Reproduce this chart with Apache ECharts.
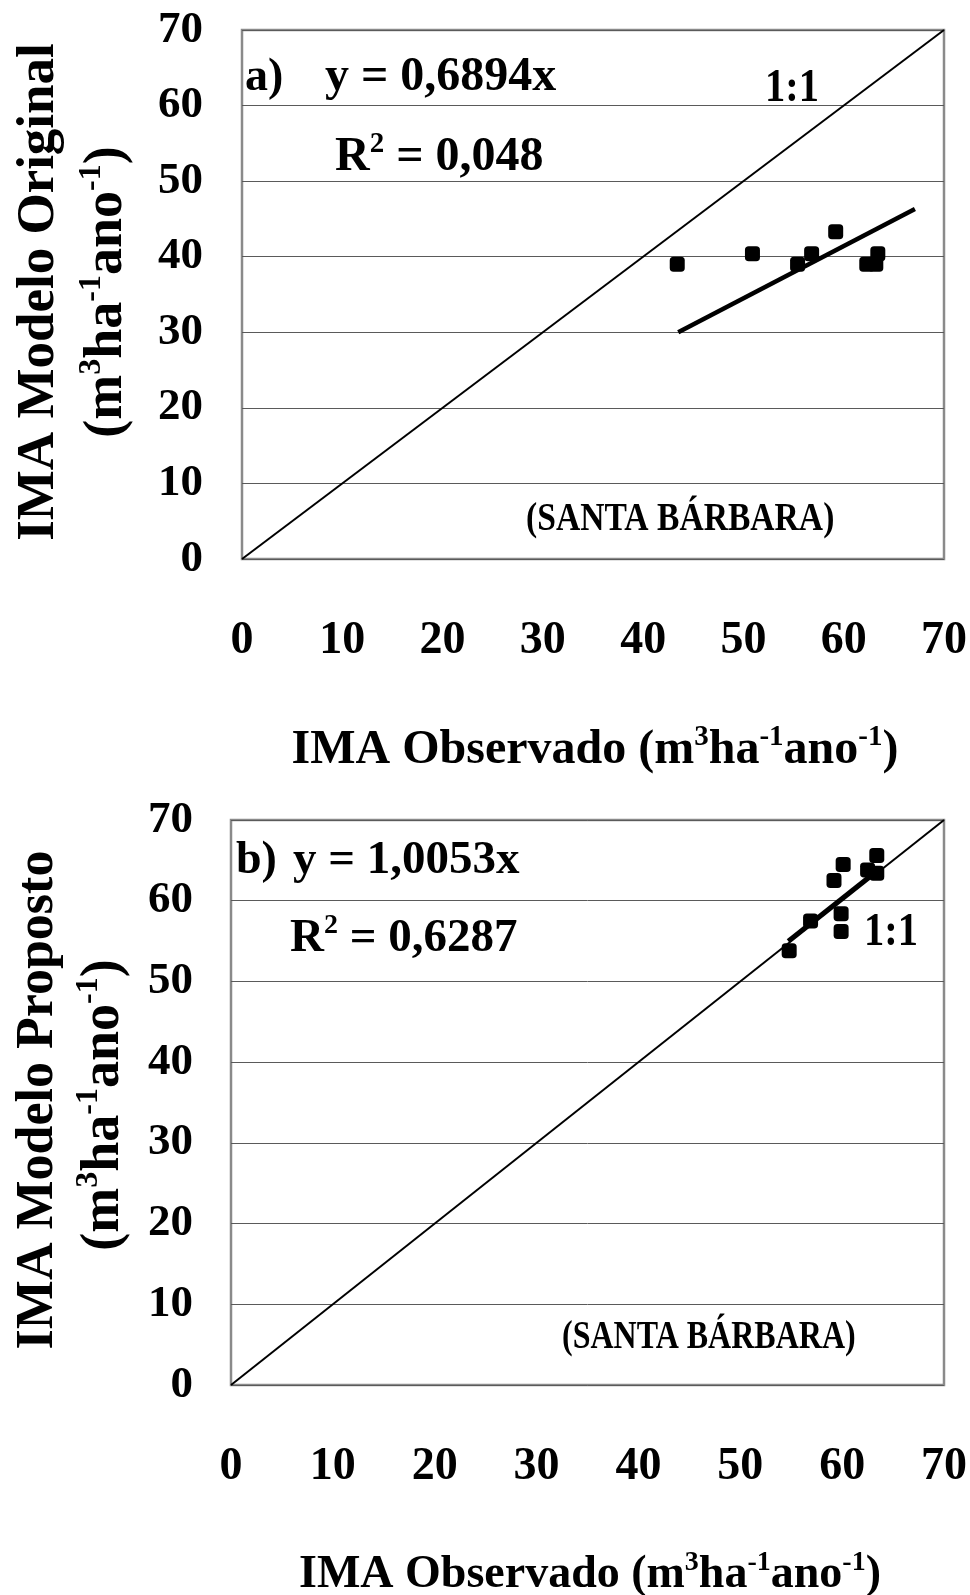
<!DOCTYPE html>
<html>
<head>
<meta charset="utf-8">
<script src="https://cdn.jsdelivr.net/npm/echarts@6/dist/echarts.min.js"></script>
<style>
html,body{margin:0;padding:0;background:#fff;}
#chart{width:970px;height:1595px;}
</style>
</head>
<body>
<div id="chart"></div>
<script>
// ---- data ----
var ticks = [0, 10, 20, 30, 40, 50, 60, 70];
var oneToOne = [[0, 0], [70, 70]];
// a) Modelo Original
var obsA = [43.4, 50.9, 55.4, 56.8, 59.2, 62.3, 63.2, 63.4];
var modA = [39.0, 40.4, 39.0, 40.4, 43.3, 39.0, 39.0, 40.4];
var trendA = [[43.5, 30.0], [67.1, 46.3]];
// b) Modelo Proposto
var obsB = [54.8, 56.9, 59.2, 60.1, 59.9, 59.9, 62.5, 63.4, 63.4];
var modB = [53.8, 57.5, 62.5, 64.5, 58.4, 56.2, 63.8, 65.6, 63.4];
var trendB = [[54.7, 55.0], [63.4, 63.7]];

function pairs(xs, ys) { return xs.map(function (x, i) { return [x, ys[i]]; }); }

var FF = "'Liberation Serif','Times New Roman',serif";
var chart = echarts.init(document.getElementById('chart'));

function xAx(grid) {
  return {
    type: 'value', gridIndex: grid, min: ticks[0], max: ticks[ticks.length - 1], interval: 10,
    axisLine: { show: false }, axisTick: { show: false }, splitLine: { show: false },
    axisLabel: { fontFamily: FF, fontWeight: 'bold', fontSize: 46, color: '#000', margin: 59 }
  };
}
function yAx(grid, margin) {
  return {
    type: 'value', gridIndex: grid, min: ticks[0], max: ticks[ticks.length - 1], interval: 10,
    axisLine: { show: false }, axisTick: { show: false },
    splitLine: { show: true, lineStyle: { color: '#5a5a5a', width: 1 } },
    axisLabel: { fontFamily: FF, fontWeight: 'bold', fontSize: 45, color: '#000', margin: margin }
  };
}

function txt(x, y, text, size, opts) {
  opts = opts || {};
  return {
    type: 'text', x: x, y: y, rotation: opts.rot || 0, scaleX: opts.sx || 1, z: 100,
    style: {
      text: text, fontFamily: FF, fontWeight: 'bold', fontSize: size, lineHeight: opts.lh || Math.round(size * 1.15),
      fill: '#000', align: opts.align || 'left', verticalAlign: 'middle',
      rich: {
        s: { fontFamily: FF, fontWeight: 'bold', fontSize: Math.round(size * 0.6), lineHeight: Math.round(size * 0.7), verticalAlign: 'top', fill: '#000' }
      }
    }
  };
}

var unit = '(m{s|3}ha{s|-1}ano{s|-1})';

chart.setOption({
  animation: false,
  backgroundColor: '#fff',
  grid: [
    { left: 242, top: 30, width: 703, height: 529, show: true, borderColor: '#8a8a8a', borderWidth: 2.5, backgroundColor: '#fff' },
    { left: 231, top: 820, width: 717, height: 565, show: true, borderColor: '#8a8a8a', borderWidth: 2.5, backgroundColor: '#fff' }
  ],
  xAxis: [xAx(0), xAx(1)],
  yAxis: [yAx(0, 39), yAx(1, 38)],
  series: [
    { type: 'line', xAxisIndex: 0, yAxisIndex: 0, data: oneToOne, symbol: 'none', lineStyle: { color: '#000', width: 2 }, silent: true },
    { type: 'scatter', xAxisIndex: 0, yAxisIndex: 0, data: pairs(obsA, modA), symbol: 'roundRect', symbolSize: 15, itemStyle: { color: '#000', opacity: 1 } },
    { type: 'line', xAxisIndex: 0, yAxisIndex: 0, data: trendA, symbol: 'none', lineStyle: { color: '#000', width: 4.5 } },
    { type: 'line', xAxisIndex: 1, yAxisIndex: 1, data: oneToOne, symbol: 'none', lineStyle: { color: '#000', width: 2 }, silent: true },
    { type: 'scatter', xAxisIndex: 1, yAxisIndex: 1, data: pairs(obsB, modB), symbol: 'roundRect', symbolSize: 15, itemStyle: { color: '#000', opacity: 1 } },
    { type: 'line', xAxisIndex: 1, yAxisIndex: 1, data: trendB, symbol: 'none', lineStyle: { color: '#000', width: 4.5 } }
  ],
  graphic: [
    // chart a annotations
    txt(245, 78, 'a)', 46),
    txt(325, 78, 'y = 0,6894x', 48),
    txt(335, 158, 'R{s|2} = 0,048', 48),
    txt(765, 89, '1:1', 46, { sx: 0.88 }),
    txt(526, 520, '(SANTA BÁRBARA)', 40, { sx: 0.84 }),
    // chart a axis titles
    txt(39, 292, 'IMA Modelo Original', 53, { rot: Math.PI / 2, align: 'center' }),
    txt(107, 292, unit, 54, { rot: Math.PI / 2, align: 'center' }),
    txt(595, 751, 'IMA Observado ' + unit, 48, { align: 'center' }),
    // chart b annotations
    txt(236, 861, 'b)', 46),
    txt(293, 861, 'y = 1,0053x', 47),
    txt(290, 939, 'R{s|2} = 0,6287', 47),
    txt(864, 933, '1:1', 46, { sx: 0.88 }),
    txt(562, 1338, '(SANTA BÁRBARA)', 40, { sx: 0.8 }),
    // chart b axis titles
    txt(39, 1100, 'IMA Modelo Proposto', 52, { rot: Math.PI / 2, align: 'center' }),
    txt(104, 1105, unit, 54, { rot: Math.PI / 2, align: 'center' }),
    txt(590, 1575, 'IMA Observado ' + unit, 46, { align: 'center' })
  ]
});
</script>
</body>
</html>
